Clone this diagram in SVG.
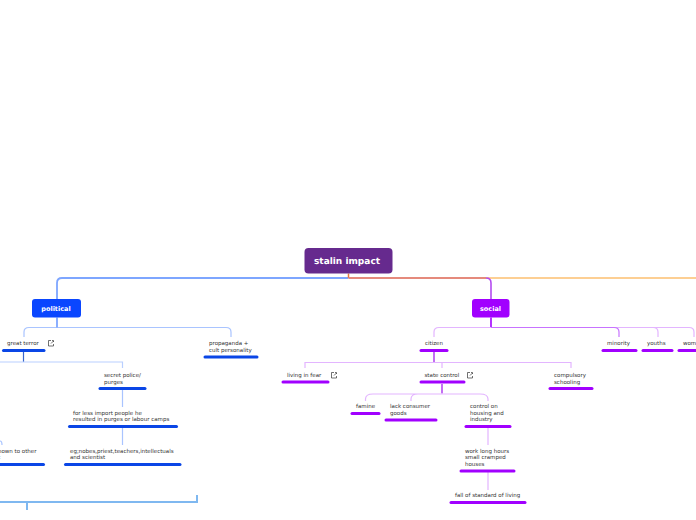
<svg xmlns="http://www.w3.org/2000/svg" width="696" height="520" viewBox="0 0 696 520">
<style>
text{font-family:"DejaVu Sans",Verdana,sans-serif;font-size:5.5px;fill:#333;text-rendering:geometricPrecision}
.t{font-weight:700;fill:#fff;text-anchor:middle}
.c{fill:none;stroke-linecap:butt}
.bb{stroke:#0a46e6;stroke-width:3;stroke-linecap:round;fill:none}
.bp{stroke:#a100ff;stroke-width:3;stroke-linecap:round;fill:none}
.lb{stroke:#a9c4ff;stroke-width:1.200}
.lp{stroke:#e3b5ff;stroke-width:1.200}
.ic{fill:none;stroke:#333;stroke-width:.7}
</style>
<rect width="696" height="520" fill="#fff"/>
<g id="connectors">
<path class="c" d="M348.500 278H62Q57 278 57 283V299" stroke="#7ea6ff" stroke-width="1.800"/>
<path class="c" d="M348.500 273.500V278" stroke="#e8743b" stroke-width="1.500"/>
<path class="c" d="M348.500 278H486" stroke="#e58a7c" stroke-width="1.800"/>
<path class="c" d="M486 278H696" stroke="#fdbf6f" stroke-width="1.600"/>
<path class="c" d="M486 278Q491 278 491 283V299" stroke="#b44cf0" stroke-width="1.600"/>
<path class="c" d="M57 327.500H29Q24 327.500 24 332V337M57 327.500H226Q231 327.500 231 332V337" stroke="#a9c4ff" stroke-width="1.200"/>
<path class="c" d="M57 317.500V327.500" stroke="#7ea6ff" stroke-width="1.800"/>
<path class="c" d="M23.500 352V362" stroke="#3a66cc" stroke-width="1.200"/>
<path class="c" d="M0 362H122.500V368" stroke="#b9cfff" stroke-width="1.200"/>
<path class="c lb" d="M122.500 389V407M122.500 428V445"/>
<path class="c lb" d="M0 441Q2 441 2 445"/>
<path class="c" d="M0 502H197V495" stroke="#7fb8f0" stroke-width="2"/>
<path class="c" d="M27 502V510" stroke="#7fb8f0" stroke-width="2"/>
<path class="c" d="M491 317.500V327.500" stroke="#a100ff" stroke-width="1.600"/>
<path class="c" d="M491 327.500H439Q434 327.500 434 332V337" stroke="#e3b5ff" stroke-width="1.200"/>
<path class="c" d="M610 327.500H653Q658 327.500 658 332V337M650 327.500H689Q694 327.500 694 332V337" stroke="#e3b5ff" stroke-width="1.200"/>
<path class="c" d="M491 327.500H614Q619 327.500 619 332V337" stroke="#c773ff" stroke-width="1.200"/>
<path class="c" d="M434 352V362" stroke="#b44cf0" stroke-width="1.600"/>
<path class="c" d="M305 368V362.500H571V368M434 362.500H442V368" stroke="#e3b5ff" stroke-width="1.200"/>
<path class="c" d="M442 384V393.500" stroke="#b44cf0" stroke-width="1.600"/>
<path class="c" d="M365.500 401V399Q365.500 394 373 394H480Q488 394 488 399V401M411 401V399Q411 394 418 394H442" stroke="#e3b5ff" stroke-width="1.200"/>
<path class="c lp" d="M488 428V445M488 472V490"/>
</g>
<g id="root"><rect x="304.500" y="248" width="88" height="25.500" rx="4" fill="#662a8e"/><text class="t" x="347" y="264" style="font-size:9px">stalin impact</text></g>
<g id="political"><rect x="32" y="299" width="49" height="18.500" rx="3" fill="#0a46ff"/><text class="t" x="56" y="311" style="font-size:6.500px">political</text></g>
<g id="social"><rect x="472" y="299" width="37.500" height="18.500" rx="3" fill="#a100ff"/><text class="t" x="490.500" y="311" style="font-size:6.500px">social</text></g>
<g id="great-terror"><text x="7" y="345">great terror</text><path class="ic" d="M51 340.500H48.500V346H53.500V344M51 343.500L53.500 341M52 340.500H53.500V342"/><path class="bb" d="M3.500 350.500H44"/></g>
<g id="propaganda"><text x="209" y="345">propaganda +</text><text x="209" y="352">cult personality</text><path class="bb" d="M205 357H257"/></g>
<g id="secret-police"><text x="104" y="377">secret police/</text><text x="104" y="383.500">purges</text><path class="bb" d="M100 388.500H145"/></g>
<g id="less-import"><text x="73" y="415">for less import people he</text><text x="73" y="421">resulted in purges or labour camps</text><path class="bb" d="M69.500 426.500H176.500"/></g>
<g id="eg"><text x="70" y="453">eg;nobes,priest,teachers,intellectuals</text><text x="70" y="459">and scientist</text><path class="bb" d="M65.500 464.500H180"/></g>
<g id="shown"><text x="-2" y="453">hown to other</text><text x="-2" y="459">t</text><path class="bb" d="M-5 464.500H43.500"/></g>
<g id="citizen"><text x="425" y="345">citizen</text><path class="bp" d="M421 350.500H447"/></g>
<g id="minority"><text x="607" y="345">minority</text><path class="bp" d="M603 350.500H636"/></g>
<g id="youths"><text x="647" y="345">youths</text><path class="bp" d="M643 350.500H672"/></g>
<g id="women"><text x="683" y="345">wom</text><path class="bp" d="M679 350.500H700"/></g>
<g id="living"><text x="287" y="377">living in fear</text><path class="ic" d="M334 372.500H331.500V378H336.500V376M334 375.500L336.500 373M335 372.500H336.500V374"/><path class="bp" d="M283 382H328"/></g>
<g id="state-control"><text x="424.500" y="377">state control</text><path class="ic" d="M470 372.500H467.500V378H472.500V376M470 375.500L472.500 373M471 372.500H472.500V374"/><path class="bp" d="M421 382H464"/></g>
<g id="schooling"><text x="554" y="377">compulsory</text><text x="554" y="383.500">schooling</text><path class="bp" d="M550 388.500H592"/></g>
<g id="famine"><text x="356" y="408">famine</text><path class="bp" d="M352 413.500H379"/></g>
<g id="consumer"><text x="390" y="408">lack consumer</text><text x="390" y="415">goods</text><path class="bp" d="M386 420H436"/></g>
<g id="housing"><text x="470" y="408">control on</text><text x="470" y="415">housing and</text><text x="470" y="421">industry</text><path class="bp" d="M466 426.500H510"/></g>
<g id="hours"><text x="465" y="453">work long hours</text><text x="465" y="459">small cramped</text><text x="465" y="466">houses</text><path class="bp" d="M461 471H514"/></g>
<g id="fall"><text x="455" y="497">fall of standard of living</text><path class="bp" d="M451 502.500H525"/></g>
</svg>
